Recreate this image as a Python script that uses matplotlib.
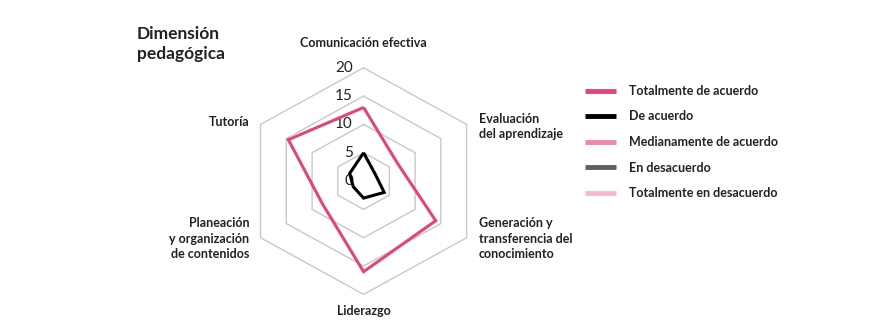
import numpy as np
import matplotlib
matplotlib.use("Agg")
import matplotlib.pyplot as plt

# data
categories = ["Comunicación efectiva", "Evaluación\ndel aprendizaje",
              "Generación y\ntransferencia del\nconocimiento", "Liderazgo",
              "Planeación\ny organización\nde contenidos", "Tutoría"]
series_names = ["Totalmente de acuerdo", "De acuerdo", "Medianamente de acuerdo",
                "En desacuerdo", "Totalmente en desacuerdo"]
totalmente_acuerdo = [13, 6.5, 14, 16, 8, 14.6]
de_acuerdo = [5, 2.3, 4, 3, 2, 2.7]
medianamente = [0, 0, 0, 0, 0, 0]
en_desacuerdo = [0, 0, 0, 0, 0, 0]
totalmente_desacuerdo = [0, 0, 0, 0, 0, 0]
ticks = [0, 5, 10, 15, 20]

colors = ["#e2457c", "#000000", "#ec88b0", "#606060", "#f6b9d2"]
all_series = [totalmente_acuerdo, de_acuerdo, medianamente, en_desacuerdo,
              totalmente_desacuerdo]

plt.rcParams['font.family'] = ['Lato', 'DejaVu Sans']
txt = "#222222"

fig = plt.figure(figsize=(8.69, 3.22), dpi=100)
# hexagon is a little wider than tall in the reference
ax = fig.add_axes([0.2541, 0.0155, 0.3286, 0.8443])
ax.set_xlim(-24, 24)
ax.set_ylim(-24, 24)
ax.axis("off")

n = len(categories)
ang = np.arange(n) * 2 * np.pi / n
ang_c = np.append(ang, ang[0])

def xy(vals):
    v = np.append(np.asarray(vals, float), vals[0])
    return v * np.sin(ang_c), v * np.cos(ang_c)

# hexagonal grid
for t in ticks[1:]:
    gx, gy = xy([t] * n)
    ax.plot(gx, gy, color="#c8c8c8", lw=1.0, zorder=1)
for t in ticks:
    ax.text(-1.8, t, str(t), ha="right", va="center", fontsize=11,
            color=txt, zorder=2)

# series
handles = []
for name, vals, c in zip(series_names, all_series, colors):
    sx, sy = xy(vals)
    h, = ax.plot(sx, sy, color=c, lw=2.2, solid_capstyle="butt",
                 solid_joinstyle="miter", label=name, zorder=3)
    handles.append(h)

# category labels
lab = dict(fontsize=9, color=txt, fontweight="bold", linespacing=1.35)
ax.text(0, 24.3, categories[0], ha="center", va="center", **lab)
ax.text(19.4, 9.6, categories[1], ha="left", va="center", **lab)
ax.text(19.4, -10.2, categories[2], ha="left", va="center", **lab)
ax.text(0, -23.0, categories[3], ha="center", va="center", **lab)
ax.text(-19.2, -10.2, categories[4], ha="right", va="center", **lab)
ax.text(-19.2, 10.5, categories[5], ha="right", va="center", **lab)

fig.text(137 / 869, 1 - 44 / 322, "Dimensión\npedagógica", ha="left",
         va="center", fontsize=12.5, fontweight="bold", color=txt,
         linespacing=1.35)

leg = fig.legend(handles=handles, loc="upper left",
                 bbox_to_anchor=(585 / 869, 1 - 85 / 322), frameon=False,
                 fontsize=9, handlelength=2.45, labelspacing=1.08,
                 handletextpad=1.05, borderpad=0, borderaxespad=0)
for t in leg.get_texts():
    t.set_color(txt)
    t.set_fontweight("bold")
for l in leg.get_lines():
    l.set_linewidth(3.5)

fig.savefig("out.png", dpi=100)
